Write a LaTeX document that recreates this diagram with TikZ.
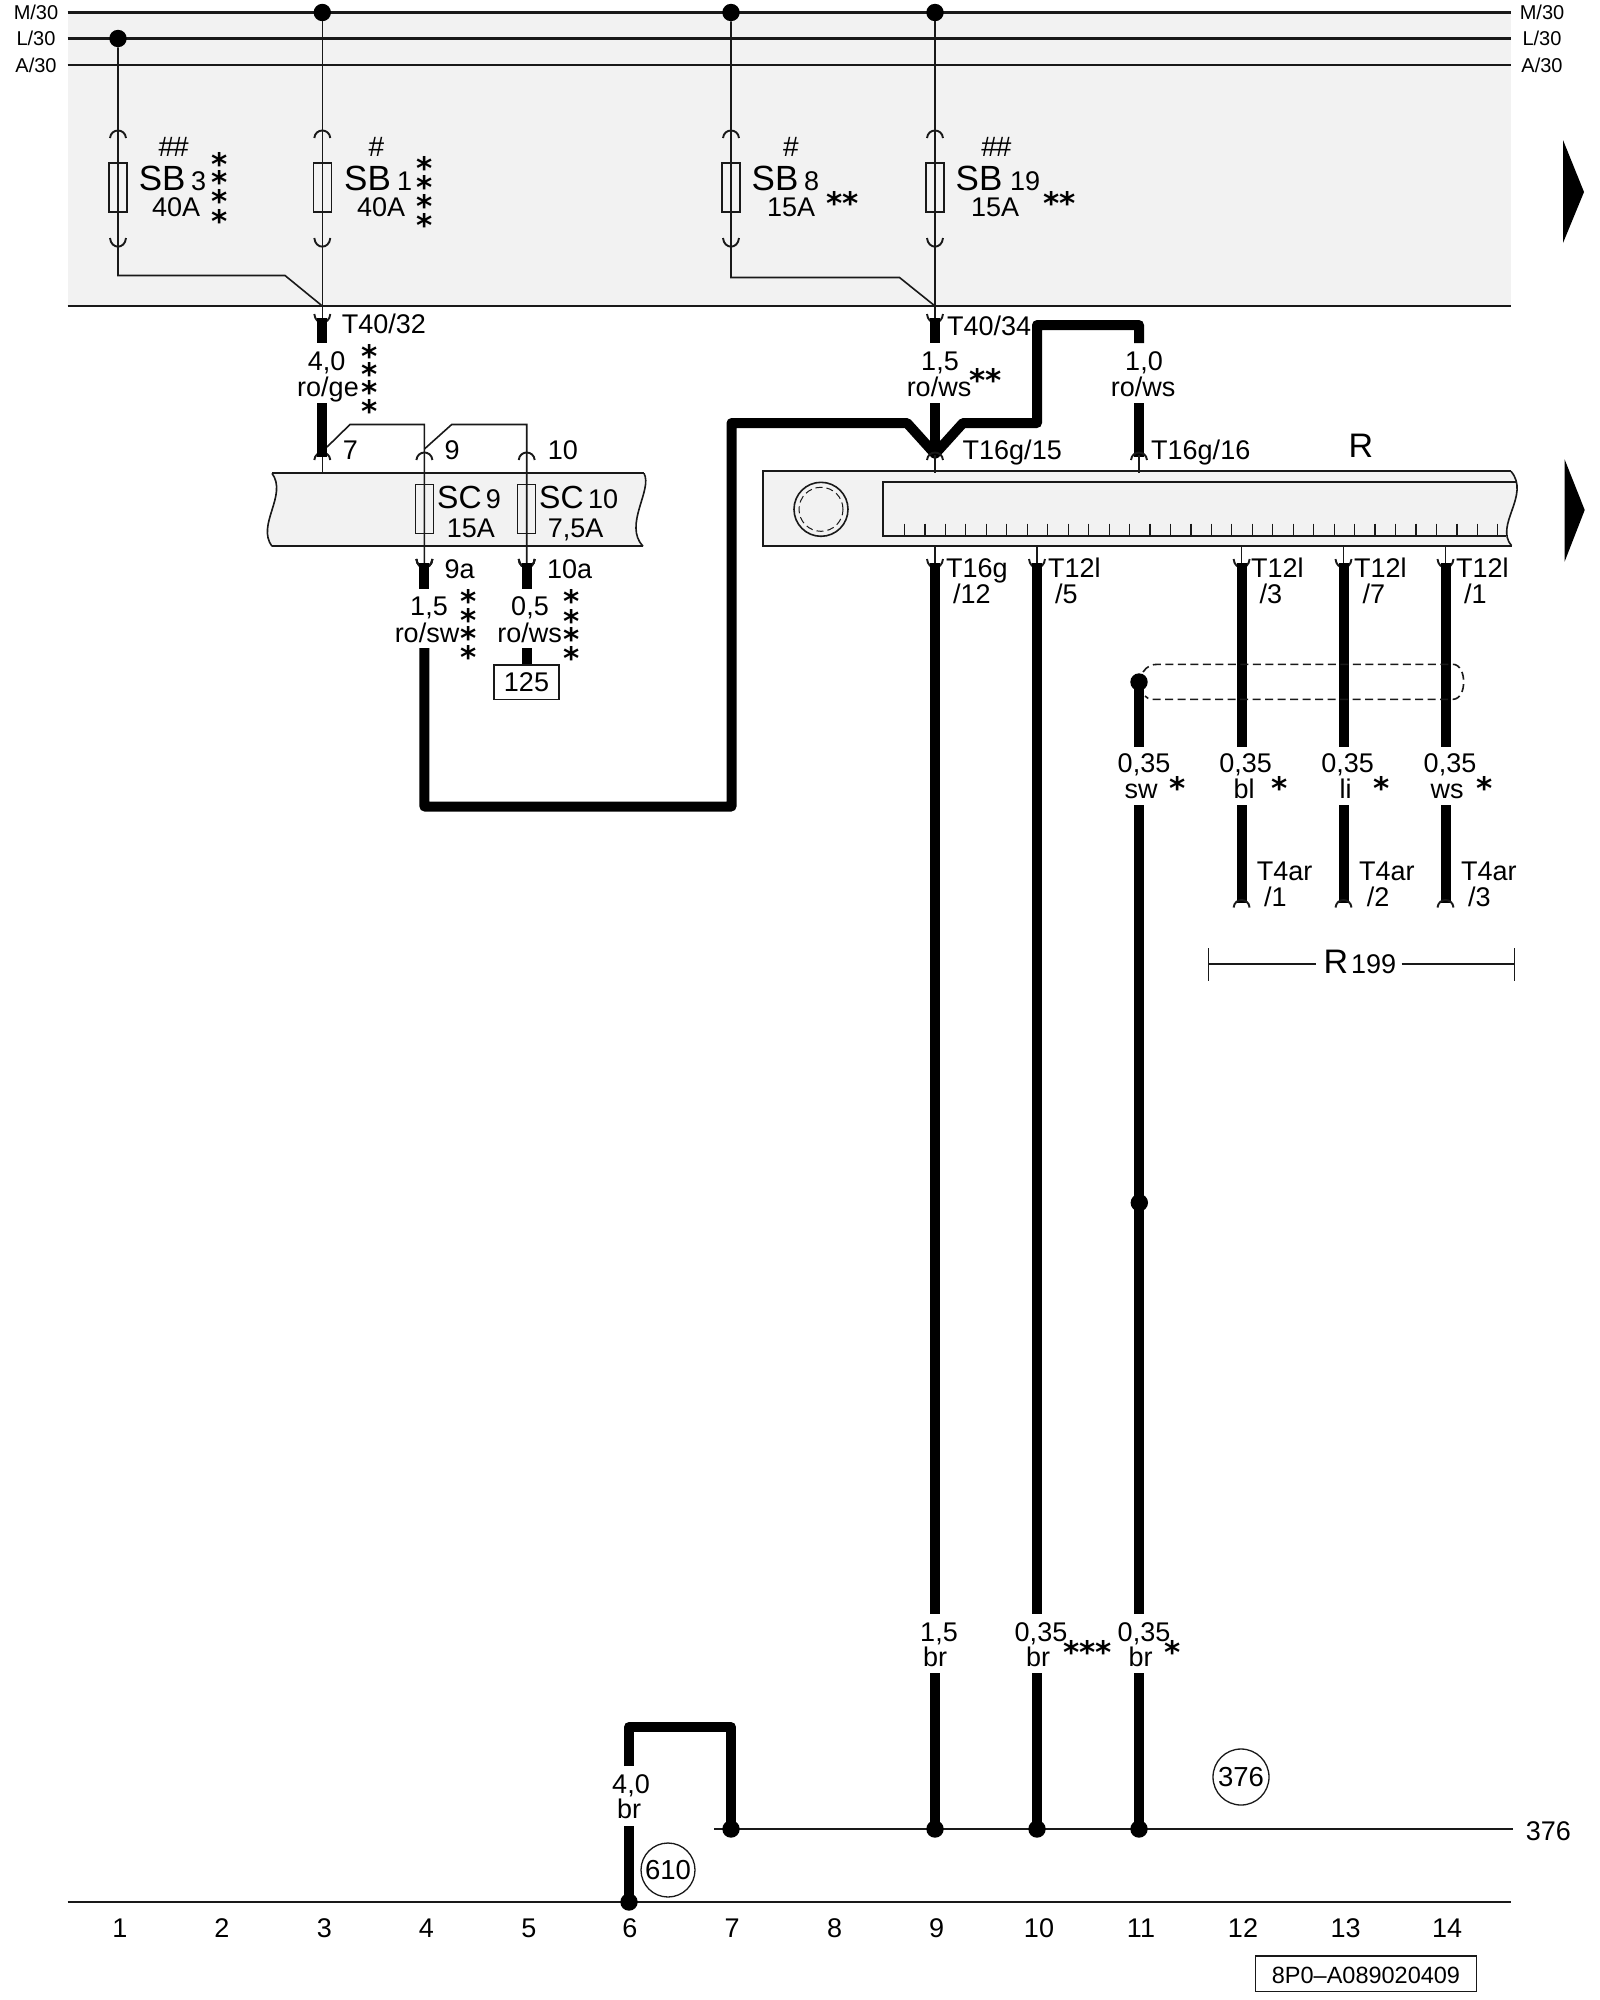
\documentclass[tikz,border=0pt]{standalone}
\usepackage{fontspec}
\setmainfont{Liberation Sans}
\newfontfamily\starfont{DejaVu Sans}
\definecolor{bandgray}{HTML}{F2F2F2}
\newcommand\fs[1]{\fontsize{#1}{#1}\selectfont}
\newcommand\C[3]{\coordinate (#1) at (#2,#3);}
\newcommand\jackdown[2]{\draw[thinw,line width=1.9pt,shift={(#1,#2)}] (-8,-5) .. controls (-7,6.5) and (7,6.5) .. (8,-5);}
\newcommand\jackup[2]{\draw[thinw,line width=1.9pt,shift={(#1,#2)}] (-8,6) .. controls (-7,-4) and (7,-4) .. (8,6);}
\tikzset{
  x=1pt,y=-1pt,
  bus/.style={line width=2.1pt,draw=black!90},
  thinw/.style={line width=1.6pt,draw=black!90},
  wire/.style={line width=10pt,draw=black,line join=round,line cap=butt},
  dot/.style={circle,fill=black,inner sep=0pt,minimum size=17.4pt},
  fuse/.style={rectangle,draw=black!90,line width=1.5pt,inner sep=0pt,minimum width=18pt,minimum height=49pt},
  txt/.style={inner sep=0pt,font=\fs{27},anchor=base,text=black},
  txl/.style={txt,anchor=base west},
  big/.style={txl,font=\fs{35}},
  sml/.style={txt,font=\fs{20}},
  asterisk/.style={inner sep=0pt,anchor=base,font=\starfont\bfseries\fs{31},yshift=-15.5pt},
  ring/.style={circle,draw=black!90,line width=1.3pt,inner sep=0pt,font=\fs{27.5}},
  tag/.style={rectangle,draw=black!90,line width=1.4pt,inner sep=0pt,font=\fs{27}},
}
\begin{document}
\begin{tikzpicture}
\useasboundingbox (0,0) rectangle (1600,2000);
\fill[white] (0,0) rectangle (1600,2000);
% ---- gray zones
\fill[bandgray] (67.5,12.5) rectangle (1511,306);
\fill[bandgray] (272,473.3) -- (644,473.3) .. controls (653,490) and (623,525) .. (643,546.3) -- (272,546.3) .. controls (256,525) and (288,495) .. (272,473.3) -- cycle;
\fill[bandgray] (763,471.3) -- (1511,471.3) .. controls (1531,495) and (1494,525) .. (1511.5,545.7) -- (763,545.7) -- cycle;
% ---- bus lines
\C{mL}{67.5}{12.5}\C{mR}{1511}{12.5}
\C{lL}{67.5}{38.5}\C{lR}{1511}{38.5}
\C{aL}{67.5}{65}\C{aR}{1511}{65}
\C{bL}{67.5}{306}\C{bR}{1511}{306}
\draw[bus] (mL)--(mR) (lL)--(lR) (aL)--(aR) (bL)--(bR);
\C{gL}{67.5}{1902}\C{gR}{1511}{1902}
\C{hL}{714}{1829}\C{hR}{1512.7}{1829}
\draw[bus] (gL)--(gR) (hL)--(hR);
% ---- SC strip outline
\draw[thinw,line width=1.9pt] (272,473.3) -- (644,473.3);
\draw[thinw,line width=1.9pt] (272,546.3) -- (643,546.3);
\draw[thinw] (644,473.3) .. controls (653,490) and (623,525) .. (643,546.3);
\draw[thinw] (272,473.3) .. controls (288,495) and (256,525) .. (272,546.3);
% ---- R outline
\draw[thinw,line width=1.9pt] (1511,471.3) -- (763,471.3) -- (763,545.7) -- (1511.5,545.7);
\draw[thinw] (1511,471.3) .. controls (1531,495) and (1494,525) .. (1511.5,545.7);
\draw[thinw,line width=1.9pt] (1517,482.3) -- (883.3,482.3) -- (883.3,535.7) -- (1506,535.7);
\foreach \i in {0,...,29} \draw[thinw,line width=1.2pt] ({904.5+20.46*\i},523.5) -- ({904.5+20.46*\i},535.7);
\node[circle,draw=black!90,line width=1.6pt,minimum size=54pt,inner sep=0pt] (rollo) at (821,509.3) {};
\node[circle,draw=black!90,line width=1pt,dash pattern=on 7pt off 4pt,minimum size=44pt,inner sep=0pt] (rolli) at (821,509.3) {};
% ---- fuses
\node[fuse] (fA) at (118,187.5) {};
\node[fuse] (fB) at (322.3,187.5) {};
\node[fuse] (fC) at (731,187.5) {};
\node[fuse] (fD) at (935,187.5) {};
\node[fuse] (fE) at (424.4,509) {};
\node[fuse] (fF) at (526.7,509) {};
% ---- junction dots
\node[dot] (dA) at (118,38.5) {};
\node[dot] (dB) at (322.3,12.5) {};
\node[dot] (dC) at (731,12.5) {};
\node[dot] (dD) at (935,12.5) {};
\node[dot] (dE) at (1139,682) {};
\node[dot] (dF) at (1139.3,1202.7) {};
\node[dot] (dG) at (731,1829) {};
\node[dot] (dH) at (935,1829) {};
\node[dot] (dI) at (1037,1829) {};
\node[dot] (dJ) at (1139,1829) {};
\node[dot] (dK) at (629,1902) {};
% ---- thin feeds through fuses and on to the plug
\C{a1}{118}{275.5}\C{a2}{285}{275.5}\C{a3}{322.3}{306}\C{a4}{322.3}{320}
\C{a5}{118}{243}
\draw[thinw] (dA) -- (a5) -- (a1) -- (a2) -- (a3);
\draw[thinw] (dB) -- (a3) -- (a4);
\C{c1}{731}{277.5}\C{c2}{899.5}{277.5}\C{c3}{935}{306}\C{c4}{935}{320}
\draw[thinw] (dC) -- (c1) -- (c2) -- (c3);
\draw[thinw] (dD) -- (c3) -- (c4);
\foreach \x in {118,322.3,731,935} {\jackup{\x}{132}\jackdown{\x}{243}}
\jackdown{322.3}{319}\jackdown{935}{319}
% ---- SC feeds
\C{s1}{327}{447}\C{s2}{350}{424.5}\C{s3}{424.4}{424.5}\C{s4}{424.4}{563}
\C{s5}{424.4}{449}\C{s6}{451.7}{424.5}\C{s7}{526.7}{424.5}\C{s8}{526.7}{563}
\C{s9}{322.3}{455}\C{s10}{322.3}{473.3}
\draw[thinw] (s1)--(s2)--(s3)--(s4);
\draw[thinw] (s5)--(s6)--(s7)--(s8);
\draw[thinw] (s9)--(s10);
\foreach \x in {322.3,424.4,526.7} \jackup{\x}{454}
\jackdown{424.4}{564}\jackdown{526.7}{564}
% ---- thick wires
\C{w1}{322.3}{318}\C{w2}{322.3}{343}\draw[wire] (w1)--(w2);
\C{w3}{322.3}{403}\C{w4}{322.3}{457}\draw[wire] (w3)--(w4);
\C{w5}{424.4}{563}\C{w6}{424.4}{589}\draw[wire] (w5)--(w6);
\C{w7}{526.7}{563}\C{w8}{526.7}{589}\draw[wire] (w7)--(w8);
\C{w9}{526.7}{648.3}\C{w10}{526.7}{665}\draw[wire] (w9)--(w10);
\C{x1}{424.4}{648}\C{x2}{424.4}{806.5}\C{x3}{731.5}{806.5}\C{x4}{731.5}{423}\C{x5}{907}{423}\C{x6}{935}{454}
\C{x7}{963}{423}\C{x8}{1037}{423}\C{x9}{1037}{325}\C{x10}{1139}{325}\C{x11}{1139}{343}
\draw[wire] (x1)--(x2)--(x3)--(x4)--(x5)--(x6)--(x7)--(x8)--(x9)--(x10)--(x11);
\C{w11}{935}{318}\C{w12}{935}{343}\draw[wire] (w11)--(w12);
\C{w13}{935}{403}\C{w14}{935}{456}\draw[wire] (w13)--(w14);
\C{w15}{1139}{403}\C{w16}{1139}{457}\draw[wire] (w15)--(w16);
% plug at R top
\C{r1}{935}{455}\C{r2}{935}{473}\C{r3}{1139}{455}\C{r4}{1139}{473}
\draw[thinw] (r1)--(r2) (r3)--(r4);
\jackup{935}{454}\jackup{1139}{454}
% R bottom plugs
\foreach \n/\x in {p/935,q/1037,u/1241.6,v/1343.5,z/1445.5} {
  \coordinate (\n1) at (\x,545.7); \coordinate (\n2) at (\x,564);
  \draw[thinw] (\n1)--(\n2);
  \jackdown{\x}{564}
}
\C{y1}{935}{563}\C{y2}{935}{1614}\draw[wire] (y1)--(y2);
\C{y3}{935}{1673}\draw[wire] (y3)--(dH.center);
\C{y4}{1037}{563}\C{y5}{1037}{1614}\draw[wire] (y4)--(y5);
\C{y6}{1037}{1673}\draw[wire] (y6)--(dI.center);
\foreach \n/\x in {u/1241.6,v/1343.5,z/1445.5} {
  \coordinate (\n3) at (\x,563); \coordinate (\n4) at (\x,746.7);
  \coordinate (\n5) at (\x,805); \coordinate (\n6) at (\x,903);
  \draw[wire] (\n3)--(\n4); \draw[wire] (\n5)--(\n6);
  \jackup{\x}{901.5}
}
\C{k1}{1139}{746.7}\draw[wire] (dE.center)--(k1);
\C{k2}{1139}{805}\C{k3}{1139}{1614}\draw[wire] (k2)--(k3);
\C{k4}{1139}{1673}\draw[wire] (k4)--(dJ.center);
\C{g1}{629}{1826}\draw[wire] (dK.center)--(g1);
\C{g2}{629}{1766}\C{g3}{629}{1727}\C{g4}{731}{1727}\draw[wire] (g2)--(g3)--(g4)--(dG.center);
% ---- shield
\C{h1}{1143}{672}\C{h2}{1158}{664.3}\C{h3}{1453}{664.3}\C{h4}{1453}{699.3}\C{h5}{1152}{699.3}\C{h6}{1145}{696}
\draw[thinw,dash pattern=on 8pt off 4.5pt] (h1) .. controls (1147,666) and (1152,664.3) .. (h2) -- (h3) .. controls (1460,664.3) and (1464,674) .. (1463.5,682) .. controls (1464,690) and (1460,699.3) .. (h4) -- (h5) .. controls (1149,699.3) and (1147,698) .. (h6);
% ---- triangles
\fill[black] (1563,140) -- (1584,192) -- (1563,243) -- cycle;
\fill[black] (1564.6,459.3) -- (1584.7,510) -- (1564.6,561.7) -- cycle;
% ---- bus labels
\node[sml] (tM1) at (36,19) {M/30};
\node[sml] (tL1) at (36,45.5) {L/30};
\node[sml] (tA1) at (36,72) {A/30};
\node[sml] (tM2) at (1542,19) {M/30};
\node[sml] (tL2) at (1542,45.5) {L/30};
\node[sml] (tA2) at (1542,72) {A/30};
% ---- fuse labels
\node[txt,font=\fs{28}] (hA) at (173.7,156.5) {\#\kern-1pt\#};
\node[big] (sbA) at (138.7,190.7) {SB};
\node[txl] (nA) at (191,190.7) {3};
\node[txl] (vA) at (152,216.7) {40A};
\node[txt,font=\fs{28}] (hB) at (376.5,156.5) {\#};
\node[big] (sbB) at (344,190.7) {SB};
\node[txl] (nB) at (397,190.7) {1};
\node[txl] (vB) at (357,216.7) {40A};
\node[txt,font=\fs{28}] (hC) at (791,156.5) {\#};
\node[big] (sbC) at (751.5,190.7) {SB};
\node[txl] (nC) at (804,190.7) {8};
\node[txl] (vC) at (767,216.7) {15A};
\node[txt,font=\fs{28}] (hD) at (996.4,156.5) {\#\kern-1pt\#};
\node[big] (sbD) at (955.5,190.7) {SB};
\node[txl] (nD) at (1010,190.7) {19};
\node[txl] (vD) at (971,216.7) {15A};
\node[txl,font=\fs{32}] (scE) at (437,508) {SC};
\node[txl] (nE) at (485.7,508) {9};
\node[txl] (vE) at (446.7,537) {15A};
\node[txl,font=\fs{32}] (scF) at (539,508) {SC};
\node[txl] (nF) at (588,508) {10};
\node[txl] (vF) at (547.7,537) {7,5A};
% ---- wire labels
\node[txl] (t7) at (342.7,459) {7};
\node[txl] (t9) at (444.5,459) {9};
\node[txl] (t10) at (547.7,459) {10};
\node[txl] (t9a) at (444.5,578) {9a};
\node[txl] (t10a) at (547,578) {10a};
\node[txl] (t4032) at (341.7,333) {T40/32};
\node[txt] (l40) at (326.7,370.7) {4,0};
\node[txt] (lrg) at (328,396.5) {ro/ge};
\node[txt] (l15a) at (429,615) {1,5};
\node[txt] (lrs) at (427,642) {ro/sw};
\node[txt] (l05) at (530,615) {0,5};
\node[txt] (lrw) at (529.6,642) {ro/ws};
\node[tag,minimum width=65pt,minimum height=34.3pt] (b125) at (526.5,682.2) {125};
\node[txl] (t4034) at (947,335) {T40/34};
\node[txt] (l15b) at (940,370.7) {1,5};
\node[txt] (lrwb) at (939,396.7) {ro/ws};
\node[txt] (l10) at (1144,370.7) {1,0};
\node[txt] (lrwc) at (1143,396.7) {ro/ws};
\node[txl] (t1615) at (962.5,459) {T16g/15};
\node[txl] (t1616) at (1151,459) {T16g/16};
\node[txt,font=\fs{34}] (tR) at (1361,457) {R};
\node[txl] (t16g) at (946,577) {T16g};
\node[txl] (t12) at (953,603) {/12};
\node[txl] (t12a) at (1048,577) {T12l};
\node[txl] (t5) at (1055,603) {/5};
\node[txl] (t12b) at (1251,577) {T12l};
\node[txl] (t3) at (1259.5,603) {/3};
\node[txl] (t12c) at (1354,577) {T12l};
\node[txl] (t7b) at (1362.5,603) {/7};
\node[txl] (t12d) at (1456,577) {T12l};
\node[txl] (t1) at (1464,603) {/1};
\node[txt] (la) at (1144,772.3) {0,35};
\node[txt] (lb) at (1141,798.3) {sw};
\node[txt] (lc) at (1245.7,772.3) {0,35};
\node[txt] (ld) at (1244,798.3) {bl};
\node[txt] (le) at (1347.7,772.3) {0,35};
\node[txt] (lf) at (1345.7,798.3) {li};
\node[txt] (lg) at (1450,772.3) {0,35};
\node[txt] (lh) at (1447,798.3) {ws};
\node[txl] (ta1) at (1256.7,880.7) {T4ar};
\node[txl] (ta2) at (1264,906) {/1};
\node[txl] (tb1) at (1359,880.7) {T4ar};
\node[txl] (tb2) at (1366.7,906) {/2};
\node[txl] (tc1) at (1461,880.7) {T4ar};
\node[txl] (tc2) at (1468,906) {/3};
% ---- R199 bracket
\node[big,font=\fs{34}] (r199a) at (1323.5,973) {R};
\node[txl] (r199b) at (1351,973) {199};
\C{ra}{1208.3}{948}\C{rb}{1208.3}{980.7}\C{rc}{1208.3}{964}\C{rd}{1316}{964}
\C{re}{1401.7}{964}\C{rf}{1514.3}{964}\C{rg}{1514.3}{948}\C{rh}{1514.3}{980.7}
\draw[thinw] (ra)--(rb) (rc)--(rd) (re)--(rf) (rg)--(rh);
% ---- lower labels
\node[txt] (m1) at (939,1641) {1,5};
\node[txt] (m2) at (935,1666) {br};
\node[txt] (m3) at (1041,1641) {0,35};
\node[txt] (m4) at (1038,1666) {br};
\node[txt] (m5) at (1144,1641) {0,35};
\node[txt] (m6) at (1140.6,1666) {br};
\node[txt] (m7) at (631,1793) {4,0};
\node[txt] (m8) at (629,1818) {br};
\node[ring,minimum size=54pt] (c610) at (668,1870) {610};
\node[ring,minimum size=56pt] (c376) at (1241,1777) {376};
\node[txl] (t376) at (1525.7,1840) {376};
\foreach \n/\x in {1/120,2/222,3/324.5,4/426.5,5/529,6/630,7/732,8/834.5,9/936.6,10/1039,11/1141,12/1243,13/1345.7,14/1447}
  \node[txt] (col\n) at (\x,1937) {\n};
\node[tag,minimum width=221.4pt,minimum height=35.7pt] (code) at (1366,1973.8) {};
\node[txt,font=\fs{23.5}] (codet) at (1366,1983) {8P0–A089020409};
% ---- asterisks
\foreach \y [count=\i] in {160,178.3,197.3,216.7} \node[asterisk] (sa\i) at (219.7,\y) {*};
\foreach \y [count=\i] in {164,183,202,220.7} \node[asterisk] (sb\i) at (424.5,\y) {*};
\foreach \y [count=\i] in {351.7,370,388,407} \node[asterisk] (sc\i) at (370,\y) {*};
\foreach \y [count=\i] in {596.7,616,634,652.7} \node[asterisk] (sd\i) at (469,\y) {*};
\foreach \y [count=\i] in {597,617,635,654} \node[asterisk] (se\i) at (571.7,\y) {*};
\foreach \x [count=\i] in {835,851,1052,1068} \node[asterisk] (sf\i) at (\x,199) {*};
\foreach \x [count=\i] in {978,994} \node[asterisk] (sg\i) at (\x,375.7) {*};
\foreach \x [count=\i] in {1177.7,1280,1382,1484.7} \node[asterisk] (sh\i) at (\x,784.3) {*};
\foreach \x [count=\i] in {1072,1088,1104,1173} \node[asterisk] (si\i) at (\x,1648) {*};
\end{tikzpicture}
\end{document}
